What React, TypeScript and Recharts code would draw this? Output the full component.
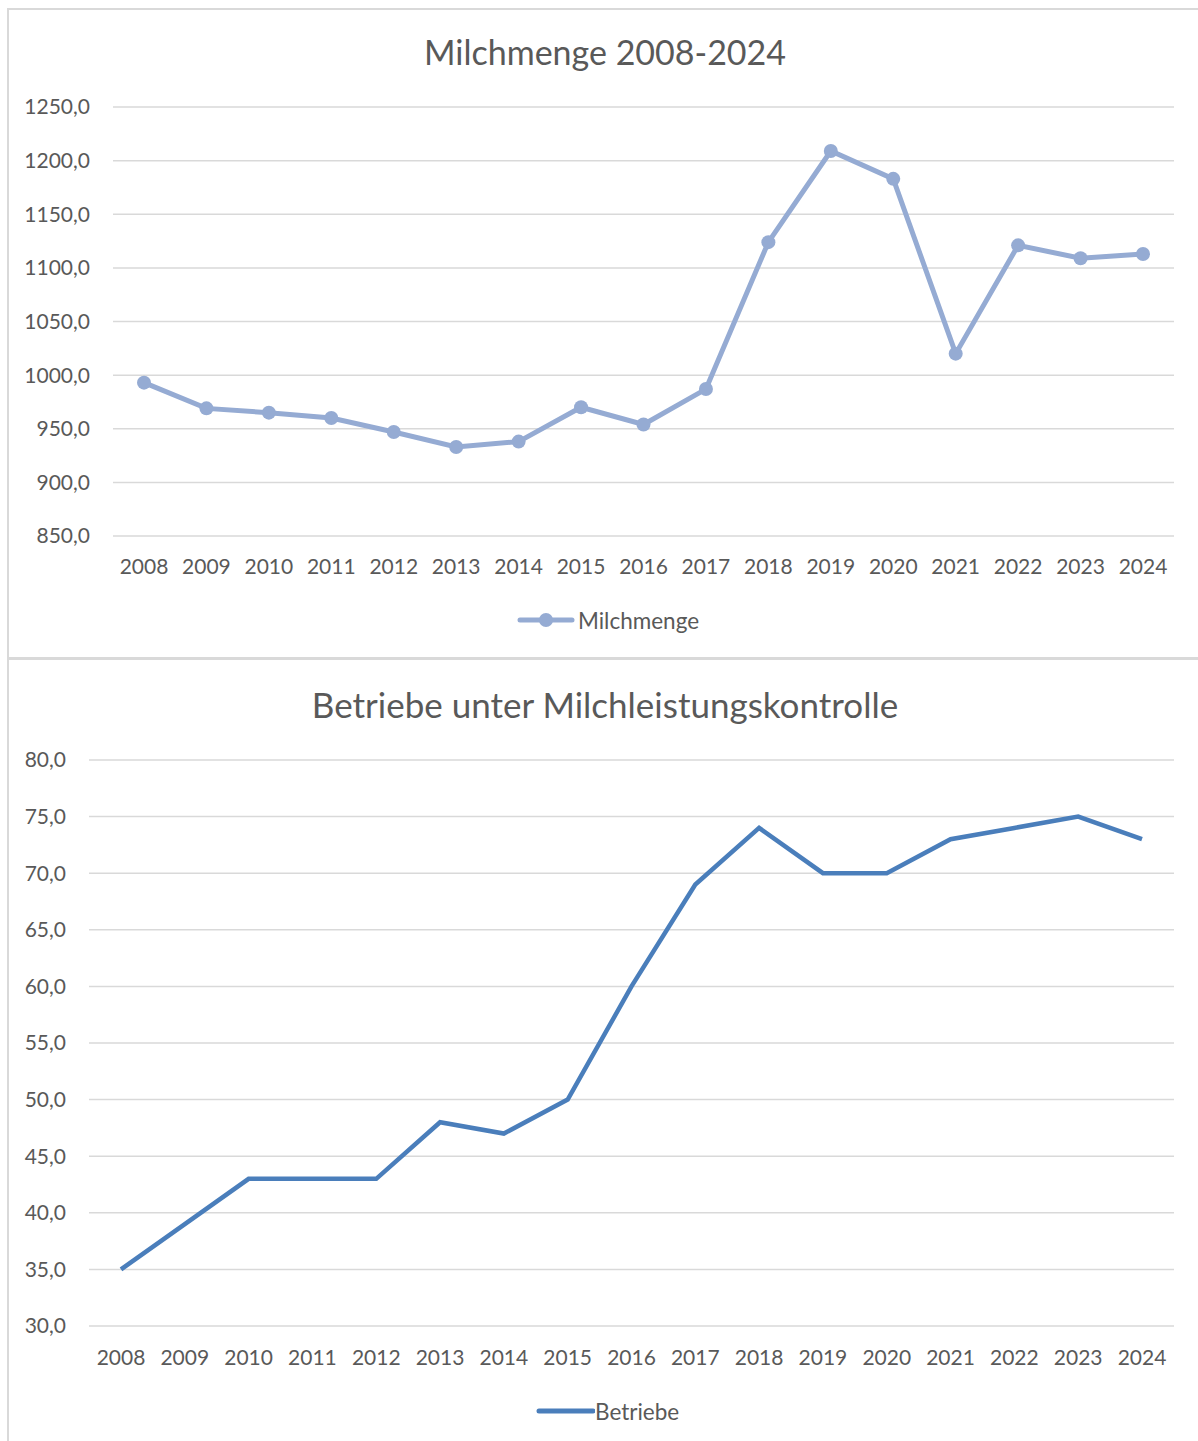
import { LineChart, Line, XAxis, YAxis, CartesianGrid } from 'recharts'

const years = ['2008', '2009', '2010', '2011', '2012', '2013', '2014', '2015', '2016', '2017', '2018', '2019', '2020', '2021', '2022', '2023', '2024']
const milchmenge = [993, 969, 965, 960, 947, 933, 938, 970, 954, 987, 1124, 1209, 1183, 1020, 1121, 1109, 1113]
const betriebe = [35, 39, 43, 43, 43, 48, 47, 50, 60, 69, 74, 70, 70, 73, 74, 75, 73]
const milchTicks = [850, 900, 950, 1000, 1050, 1100, 1150, 1200, 1250]
const betriebeTicks = [30, 35, 40, 45, 50, 55, 60, 65, 70, 75, 80]

const milchData = years.map((year, i) => ({ year, value: milchmenge[i] }))
const betriebeData = years.map((year, i) => ({ year, value: betriebe[i] }))

const FONT = 'Lato, "Open Sans", sans-serif'
const TEXT = '#595959'
const GRID = '#d9d9d9'
const MILCH_COLOR = '#95abd3'
const BETRIEBE_COLOR = '#4a7ebb'

const fmt = (v: number) => v.toFixed(1).replace('.', ',')
const tickStyle = { fill: TEXT, fontSize: 21, fontFamily: FONT }

export default function App() {
  return (
    <div style={{ position: 'absolute', left: 0, top: 0, width: 1198, height: 1441, background: '#fff', fontFamily: FONT, overflow: 'hidden' }}>
      {/* frame lines */}
      <div style={{ position: 'absolute', left: 7, top: 8, width: 1191, height: 2, background: GRID }} />
      <div style={{ position: 'absolute', left: 7, top: 8, width: 2, height: 1433, background: GRID }} />
      <div style={{ position: 'absolute', left: 7, top: 657, width: 1191, height: 3, background: GRID }} />

      {/* top chart */}
      <div style={{ position: 'absolute', left: 0, top: 0 }}>
        <LineChart width={1198} height={658} data={milchData} margin={{ top: 107, right: 24, bottom: 92, left: 0 }}>
          <CartesianGrid vertical={false} stroke={GRID} strokeWidth={1.5} />
          <XAxis dataKey="year" axisLine={false} tickLine={false} tickSize={0} tickMargin={23} padding={{ left: 31, right: 31 }} tick={tickStyle} interval={0} />
          <YAxis width={113} domain={[850, 1250]} ticks={milchTicks} tickFormatter={fmt} axisLine={false} tickLine={false} tickSize={0} tickMargin={23} tick={tickStyle} />
          <Line type="linear" dataKey="value" stroke={MILCH_COLOR} strokeWidth={5} dot={{ r: 7, fill: MILCH_COLOR, stroke: 'none' }} isAnimationActive={false} />
        </LineChart>
      </div>
      <div style={{ position: 'absolute', left: 0, width: 1210, top: 31, textAlign: 'center', fontSize: 34, color: TEXT, lineHeight: '42px' }}>
        Milchmenge 2008-2024
      </div>
      <div style={{ position: 'absolute', left: 516, top: 606, display: 'flex', alignItems: 'center', height: 28 }}>
        <svg width={60} height={20}>
          <line x1={4} y1={10} x2={56} y2={10} stroke={MILCH_COLOR} strokeWidth={5} strokeLinecap="round" />
          <circle cx={30} cy={10} r={7} fill={MILCH_COLOR} />
        </svg>
        <span style={{ fontSize: 22.5, color: TEXT, marginLeft: 2 }}>Milchmenge</span>
      </div>

      {/* bottom chart */}
      <div style={{ position: 'absolute', left: 0, top: 660 }}>
        <LineChart width={1198} height={781} data={betriebeData} margin={{ top: 100, right: 24, bottom: 85, left: 0 }}>
          <CartesianGrid vertical={false} stroke={GRID} strokeWidth={1.5} />
          <XAxis dataKey="year" axisLine={false} tickLine={false} tickSize={0} tickMargin={24} padding={{ left: 32, right: 32 }} tick={tickStyle} interval={0} />
          <YAxis width={89} domain={[30, 80]} ticks={betriebeTicks} tickFormatter={fmt} axisLine={false} tickLine={false} tickSize={0} tickMargin={23} tick={tickStyle} />
          <Line type="linear" dataKey="value" stroke={BETRIEBE_COLOR} strokeWidth={4.5} dot={false} isAnimationActive={false} />
        </LineChart>
      </div>
      <div style={{ position: 'absolute', left: 0, width: 1210, top: 683, textAlign: 'center', fontSize: 35, color: TEXT, lineHeight: '42px' }}>
        Betriebe unter Milchleistungskontrolle
      </div>
      <div style={{ position: 'absolute', left: 535, top: 1397, display: 'flex', alignItems: 'center', height: 28 }}>
        <svg width={60} height={20}>
          <line x1={4} y1={10} x2={58} y2={10} stroke={BETRIEBE_COLOR} strokeWidth={5} strokeLinecap="round" />
        </svg>
        <span style={{ fontSize: 22.5, color: TEXT, marginLeft: 0 }}>Betriebe</span>
      </div>
    </div>
  )
}
